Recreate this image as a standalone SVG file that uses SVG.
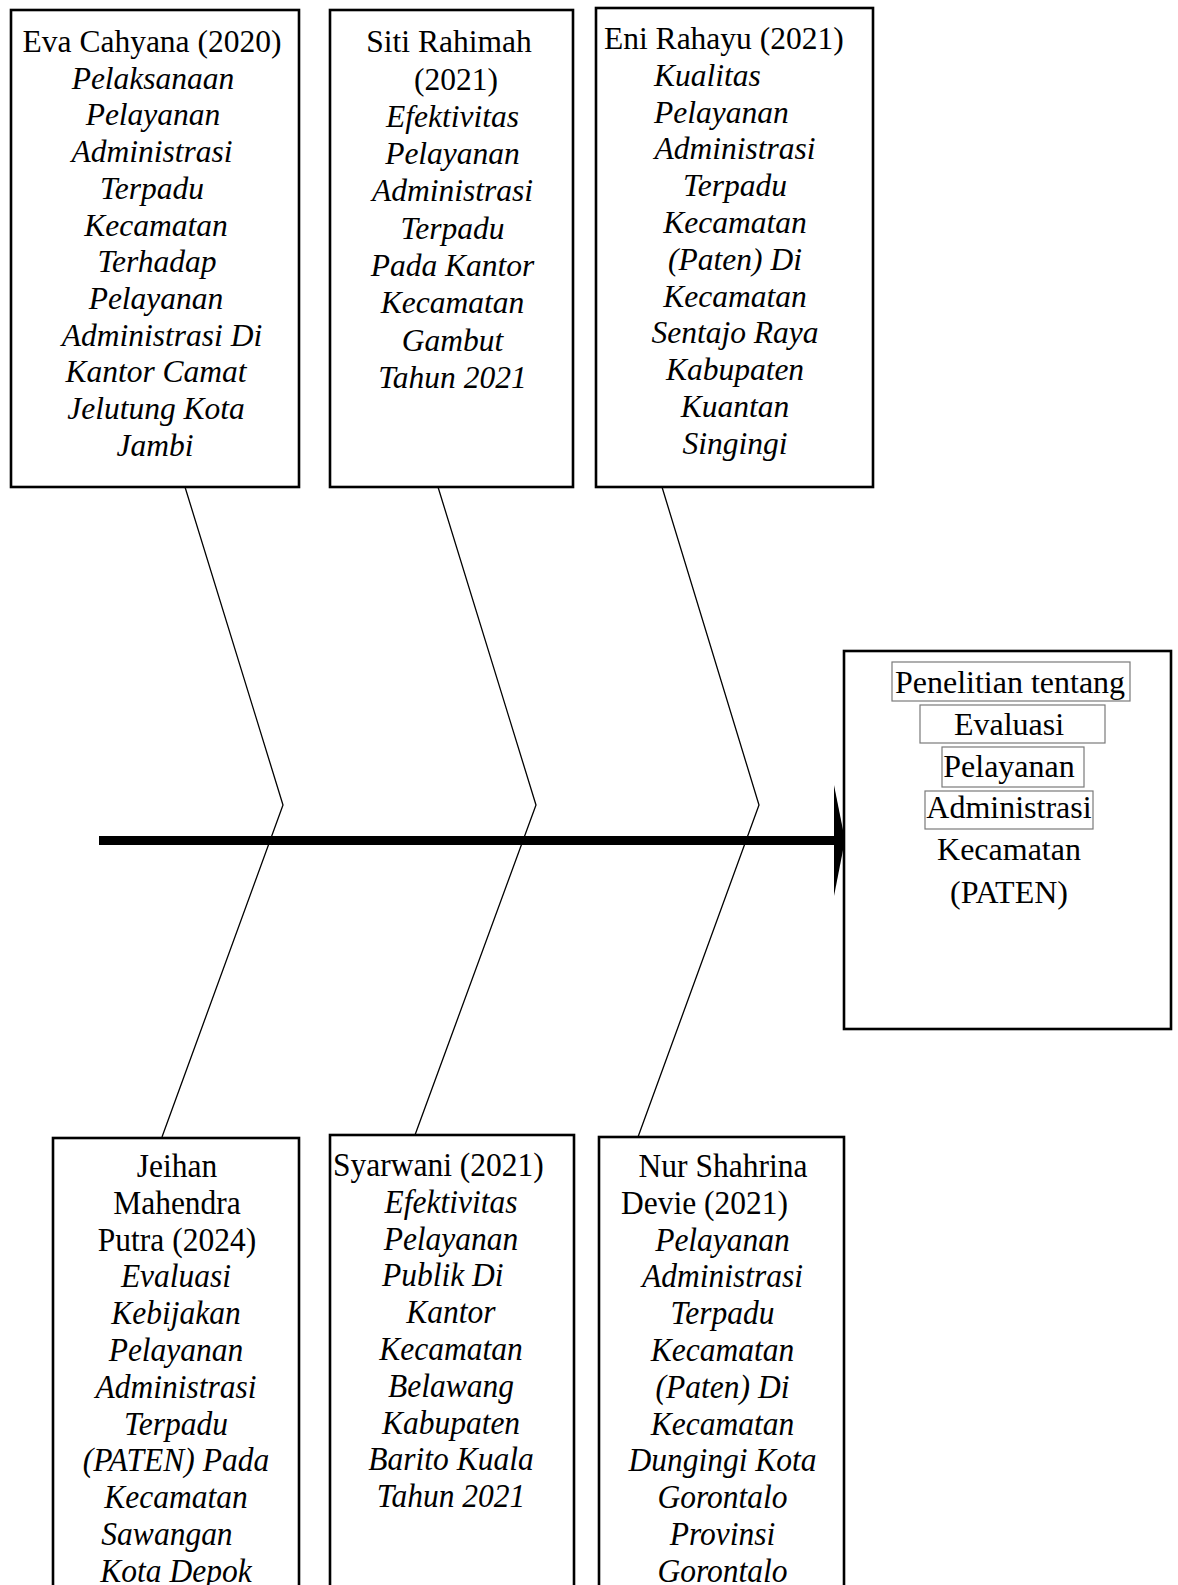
<svg xmlns="http://www.w3.org/2000/svg" width="1178" height="1585" viewBox="0 0 1178 1585">
<style>
.box{fill:#fff;stroke:#000;stroke-width:2.6}
.tb{fill:none;stroke:#7a7a7a;stroke-width:1.2}
.bone{fill:none;stroke:#000;stroke-width:1.3}
text{font-family:"Liberation Serif","Times New Roman",serif;font-size:31.5px;fill:#000}
.c{text-anchor:middle}
.i{font-style:italic}
.big{font-size:32px}
</style>
<rect width="1178" height="1585" fill="#fff"/>
<g id="connectors">
<polyline class="bone" points="185,487 283,805 162,1137"/>
<polyline class="bone" points="438,487 536,805 415,1135"/>
<polyline class="bone" points="662,487 759,805 638,1137"/>
<rect x="99" y="836" width="738" height="9" fill="#000"/>
<polygon points="834,785 845,840 834,896" fill="#000"/>
</g>
<g id="node-eva">
<rect class="box" x="11" y="10" width="288" height="477"/>
<text class="c" x="152" y="52">Eva Cahyana (2020)</text>
<text class="c i"><tspan x="153" y="88.7">Pelaksanaan</tspan><tspan x="153" y="125.4">Pelayanan</tspan><tspan x="152" y="162.1">Administrasi</tspan><tspan x="152" y="198.8">Terpadu</tspan><tspan x="156" y="235.5">Kecamatan</tspan><tspan x="157" y="272.2">Terhadap</tspan><tspan x="156" y="308.9">Pelayanan</tspan><tspan x="162" y="345.6">Administrasi Di</tspan><tspan x="156" y="382.3">Kantor Camat</tspan><tspan x="156" y="419">Jelutung Kota</tspan><tspan x="155" y="455.7">Jambi</tspan></text>
</g>
<g id="node-siti">
<rect class="box" x="330" y="10" width="243" height="477"/>
<text class="c" x="449" y="52">Siti Rahimah</text>
<text class="c" x="456" y="89.5">(2021)</text>
<text class="c i"><tspan x="452.5" y="126.8">Efektivitas</tspan><tspan x="452.5" y="164.1">Pelayanan</tspan><tspan x="452.5" y="201.4">Administrasi</tspan><tspan x="452.5" y="238.7">Terpadu</tspan><tspan x="452.5" y="276">Pada Kantor</tspan><tspan x="452.5" y="313.3">Kecamatan</tspan><tspan x="452.5" y="350.6">Gambut</tspan><tspan x="452.5" y="387.9">Tahun 2021</tspan></text>
</g>
<g id="node-eni">
<rect class="box" x="596" y="8" width="277" height="479"/>
<text x="604" y="49">Eni Rahayu (2021)</text>
<text class="i"><tspan x="654" y="85.8">Kualitas</tspan><tspan x="654" y="122.6">Pelayanan</tspan></text>
<text class="c i"><tspan x="735" y="159.4">Administrasi</tspan><tspan x="735" y="196.2">Terpadu</tspan><tspan x="735" y="233">Kecamatan</tspan><tspan x="735" y="269.8">(Paten) Di</tspan><tspan x="735" y="306.6">Kecamatan</tspan><tspan x="735" y="343.4">Sentajo Raya</tspan><tspan x="735" y="380.2">Kabupaten</tspan><tspan x="735" y="417">Kuantan</tspan><tspan x="735" y="453.8">Singingi</tspan></text>
</g>
<g id="node-result">
<rect class="box" x="844" y="651" width="327" height="378"/>
<rect class="tb" x="892" y="662" width="238" height="39"/>
<rect class="tb" x="920" y="705" width="185" height="38"/>
<rect class="tb" x="942" y="747" width="142" height="40"/>
<rect class="tb" x="925" y="791" width="168" height="38"/>
<text class="c big"><tspan x="1010" y="693">Penelitian tentang</tspan><tspan x="1009" y="735">Evaluasi</tspan><tspan x="1009" y="777">Pelayanan</tspan><tspan x="1009" y="818">Administrasi</tspan><tspan x="1009" y="860">Kecamatan</tspan><tspan x="1009" y="903">(PATEN)</tspan></text>
</g>
<g id="node-jeihan">
<rect class="box" x="53" y="1138" width="246" height="460"/>
<text class="c" transform="translate(177 1177) scale(1 1.1)">Jeihan</text>
<text class="c" transform="translate(177 1213.8) scale(1 1.1)">Mahendra</text>
<text class="c" transform="translate(177 1250.6) scale(1 1.1)">Putra (2024)</text>
<text class="c i" transform="translate(176 1287.4) scale(1 1.1)">Evaluasi</text>
<text class="c i" transform="translate(176 1324.2) scale(1 1.1)">Kebijakan</text>
<text class="c i" transform="translate(176 1361) scale(1 1.1)">Pelayanan</text>
<text class="c i" transform="translate(176 1397.8) scale(1 1.1)">Administrasi</text>
<text class="c i" transform="translate(176 1434.6) scale(1 1.1)">Terpadu</text>
<text class="c i" transform="translate(176 1471.4) scale(1 1.1)">(PATEN) Pada</text>
<text class="c i" transform="translate(176 1508.2) scale(1 1.1)">Kecamatan</text>
<text class="c i" transform="translate(167 1545) scale(1 1.1)">Sawangan</text>
<text class="c i" transform="translate(176 1581.8) scale(1 1.1)">Kota Depok</text>
</g>
<g id="node-syarwani">
<rect class="box" x="330" y="1135" width="244" height="460"/>
<text transform="translate(333 1176) scale(1 1.1)">Syarwani (2021)</text>
<text class="c i" transform="translate(451 1212.8) scale(1 1.1)">Efektivitas</text>
<text class="c i" transform="translate(451 1249.6) scale(1 1.1)">Pelayanan</text>
<text class="i" transform="translate(382 1286.4) scale(1 1.1)">Publik Di</text>
<text class="c i" transform="translate(451 1323.2) scale(1 1.1)">Kantor</text>
<text class="c i" transform="translate(451 1360) scale(1 1.1)">Kecamatan</text>
<text class="c i" transform="translate(451 1396.8) scale(1 1.1)">Belawang</text>
<text class="c i" transform="translate(451 1433.6) scale(1 1.1)">Kabupaten</text>
<text class="c i" transform="translate(451 1470.4) scale(1 1.1)">Barito Kuala</text>
<text class="c i" transform="translate(451 1507.2) scale(1 1.1)">Tahun 2021</text>
</g>
<g id="node-nur">
<rect class="box" x="599" y="1137" width="245" height="460"/>
<text class="c" transform="translate(723 1177) scale(1 1.1)">Nur Shahrina</text>
<text transform="translate(621 1213.8) scale(1 1.1)">Devie (2021)</text>
<text class="c i" transform="translate(722.5 1250.6) scale(1 1.1)">Pelayanan</text>
<text class="c i" transform="translate(722.5 1287.4) scale(1 1.1)">Administrasi</text>
<text class="c i" transform="translate(722.5 1324.2) scale(1 1.1)">Terpadu</text>
<text class="c i" transform="translate(722.5 1361) scale(1 1.1)">Kecamatan</text>
<text class="c i" transform="translate(722.5 1397.8) scale(1 1.1)">(Paten) Di</text>
<text class="c i" transform="translate(722.5 1434.6) scale(1 1.1)">Kecamatan</text>
<text class="c i" transform="translate(722.5 1471.4) scale(1 1.1)">Dungingi Kota</text>
<text class="c i" transform="translate(722.5 1508.2) scale(1 1.1)">Gorontalo</text>
<text class="c i" transform="translate(722.5 1545) scale(1 1.1)">Provinsi</text>
<text class="c i" transform="translate(722.5 1581.8) scale(1 1.1)">Gorontalo</text>
</g>
</svg>
